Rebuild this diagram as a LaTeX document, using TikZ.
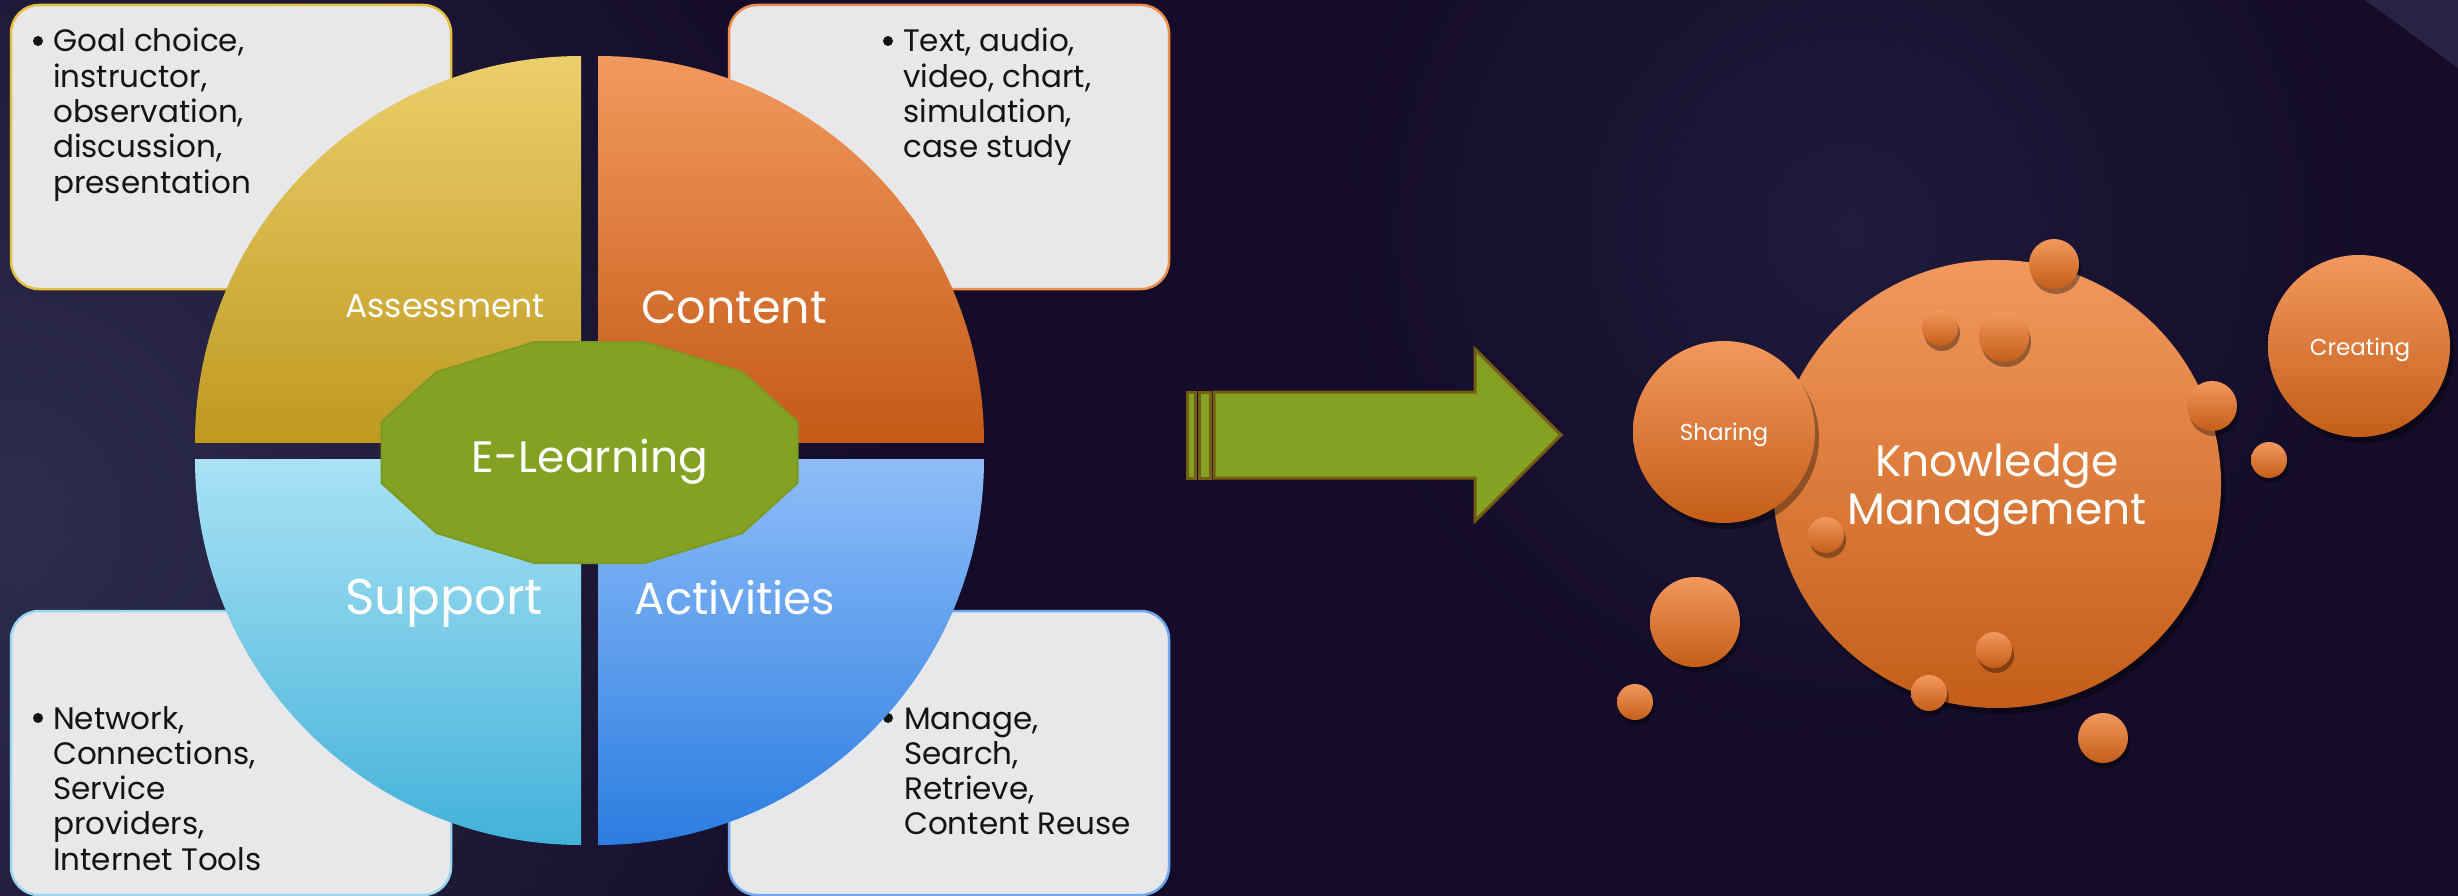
\documentclass[tikz,border=0pt]{standalone}
\usepackage{fontspec}
\setmainfont{Poppins}
\definecolor{bgR}{HTML}{140C29}
\definecolor{bgL}{HTML}{2E2D4E}
\definecolor{bgGlow}{HTML}{1F1B3C}
\definecolor{cornerc}{HTML}{2A2242}
\definecolor{boxfill}{HTML}{E8E8EA}
\definecolor{bdA}{HTML}{E5C040}
\definecolor{bdC}{HTML}{EF8E4A}
\definecolor{bdS}{HTML}{9AD6EE}
\definecolor{bdV}{HTML}{6FA8EF}
\definecolor{qAt}{HTML}{ECD06C}
\definecolor{qAb}{HTML}{BF9920}
\definecolor{qCt}{HTML}{F39A60}
\definecolor{qCb}{HTML}{C45A16}
\definecolor{qSt}{HTML}{A9E2F4}
\definecolor{qSb}{HTML}{41B1D9}
\definecolor{qVt}{HTML}{8EBDF8}
\definecolor{qVb}{HTML}{2A7CE0}
\definecolor{green1}{HTML}{84A124}
\definecolor{green2}{HTML}{7A9A22}
\definecolor{olive}{HTML}{745E12}
\definecolor{oT}{HTML}{F2985E}
\definecolor{oB}{HTML}{C45E18}
\definecolor{btxt}{HTML}{141414}
\tikzset{
  boxst/.style={line width=2.5pt, fill=boxfill, rounded corners=28pt},
  btext/.style={anchor=base west, inner sep=0pt, text=btxt, font=\fontsize{31}{35.3}\selectfont},
  wtext/.style={anchor=base, inner sep=0pt, text=white},
  bul/.style={fill=btxt},
  bubble/.style={top color=oT, bottom color=oB},
  shad/.style={fill=black, opacity=0.35}
}
\begin{document}
\begin{tikzpicture}[x=1pt,y=-1pt]
\useasboundingbox (0,0) rectangle (2458,896);
% background
\fill[bgR] (0,0) rectangle (2458,896);
\begin{scope}
\clip (0,0) rectangle (2458,896);
\shade[inner color=bgL, outer color=bgR] (0,520) circle[radius=900];
\shade[inner color=bgGlow, outer color=bgR] (1850,230) circle[radius=520];
\end{scope}
\fill[cornerc] (2365,0) -- (2458,0) -- (2458,68) -- cycle;

% boxes
\draw[boxst, draw=bdA] (11,5) rectangle (451,289);
\draw[boxst, draw=bdC] (729,5) rectangle (1169,289);
\draw[boxst, draw=bdS] (11,611) rectangle (451,895);
\draw[boxst, draw=bdV] (729,611) rectangle (1169,895);

% box texts
\fill[bul] (38,41) circle[radius=5];
\node[btext] (tA) at (53,52) {\begin{tabular}[t]{@{}l@{}}Goal choice,\\ instructor,\\ observation,\\ discussion,\\ presentation\end{tabular}};
\fill[bul] (888,41) circle[radius=5];
\node[btext] (tC) at (903,52) {\begin{tabular}[t]{@{}l@{}}Text, audio,\\ video, chart,\\ simulation,\\ case study\end{tabular}};
\fill[bul] (38,718) circle[radius=5];
\node[btext] (tS) at (53,729) {\begin{tabular}[t]{@{}l@{}}Network,\\ Connections,\\ Service\\ providers,\\ Internet Tools\end{tabular}};
\fill[bul] (888,718) circle[radius=5];
\node[btext] (tV) at (904,729) {\begin{tabular}[t]{@{}l@{}}Manage,\\ Search,\\ Retrieve,\\ Content Reuse\end{tabular}};

% quadrants
\begin{scope}
\clip (581,442) circle[radius=386];
\shade[top color=qAt, bottom color=qAb] (581,442) rectangle (190,50);
\end{scope}
\begin{scope}
\clip (598,442) circle[radius=386];
\shade[top color=qCt, bottom color=qCb] (598,442) rectangle (990,50);
\end{scope}
\begin{scope}
\clip (581,459) circle[radius=386];
\shade[top color=qSt, bottom color=qSb] (581,459) rectangle (190,850);
\end{scope}
\begin{scope}
\clip (598,459) circle[radius=386];
\shade[top color=qVt, bottom color=qVb] (598,459) rectangle (990,850);
\end{scope}

% dodecagon
\filldraw[fill=green1, draw=green2, line width=2pt]
  (534.5,342) -- (644.5,342) -- (742.5,372) -- (797.5,422) -- (797.5,483)
  -- (742.5,533) -- (644.5,563) -- (534.5,563) -- (436.5,533) -- (381.5,483)
  -- (381.5,422) -- (436.5,372) -- cycle;

% quadrant labels
\node[wtext, font=\fontsize{33}{40}\selectfont] (lA) at (445,317) {Assessment};
\node[wtext, font=\fontsize{46}{55}\selectfont] (lC) at (734,323) {Content};
\node[wtext, font=\fontsize{50}{60}\selectfont] (lS) at (444,614) {Support};
\node[wtext, font=\fontsize{45}{55}\selectfont] (lV) at (735,614) {Activities};
\node[wtext, font=\fontsize{44}{55}\selectfont] (lE) at (590,472) {E-Learning};

% arrow
\filldraw[fill=green1, draw=olive, line width=3pt] (1187,392) rectangle (1195,478);
\filldraw[fill=green1, draw=olive, line width=3pt] (1199,392) rectangle (1210,478);
\filldraw[fill=green1, draw=olive, line width=3pt, line join=miter]
  (1214,392) -- (1475,392) -- (1475,349) -- (1561,435) -- (1475,521) -- (1475,478) -- (1214,478) -- cycle;

% knowledge circles
\fill[shad] (2001,490) circle[radius=224];
\shade[bubble] (1997,484) circle[radius=224];
\fill[shad] (1728,438) circle[radius=91];
\shade[bubble] (1724,432) circle[radius=91];
\fill[shad] (2363,352) circle[radius=91];
\shade[bubble] (2359,346) circle[radius=91];
\foreach \x/\y/\r in {2054/264/25, 1940/328/18, 2004/337/25, 2212/406/25, 2269/460/18,
  1826/535/18, 1695/622/45, 1635/702/18, 1929/693/18, 1994/650/18, 2103/738/25}{
  \fill[shad] (\x+2,\y+5) circle[radius=\r];
  \shade[bubble] (\x,\y) circle[radius=\r];
}
\node[wtext, font=\fontsize{44}{48}\selectfont] (km1) at (1997,476) {Knowledge};
\node[wtext, font=\fontsize{44}{48}\selectfont] (km2) at (1997,524) {Management};
\node[wtext, font=\fontsize{23}{28}\selectfont] (sh) at (1724,440) {Sharing};
\node[wtext, font=\fontsize{23}{28}\selectfont] (cr) at (2360,355) {Creating};
\end{tikzpicture}
\end{document}
